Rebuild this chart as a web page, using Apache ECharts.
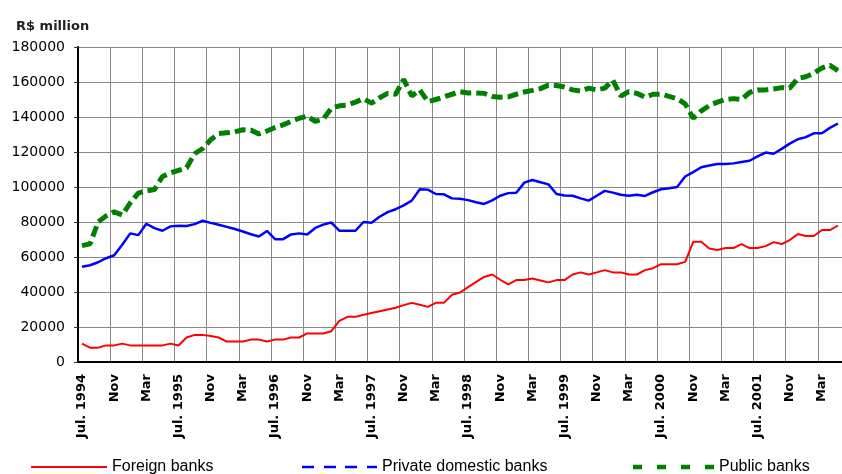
<!DOCTYPE html>
<html>
<head>
<meta charset="utf-8">
<script src="https://cdn.jsdelivr.net/npm/echarts/dist/echarts.min.js"></script>
<style>
  html, body { margin: 0; padding: 0; background: #fff; }
  #chart { width: 842px; height: 474px; }
</style>
</head>
<body>
<div id="chart"></div>
<script>
// monthly, Jul 1994 .. May 2002 (95 months), R$ million
const tickLabels = ['Jul. 1994', 'Nov', 'Mar', 'Jul. 1995', 'Nov', 'Mar', 'Jul. 1996', 'Nov', 'Mar',
  'Jul. 1997', 'Nov', 'Mar', 'Jul. 1998', 'Nov', 'Mar', 'Jul. 1999', 'Nov', 'Mar',
  'Jul. 2000', 'Nov', 'Mar', 'Jul. 2001', 'Nov', 'Mar']

const foreignBanks = [
  10500, 8200, 8200, 9500, 9500, 10500, 9500, 9500, 9500, 9500, 9500, 10500,
  9400, 14000, 15500, 15500, 14800, 14000, 11700, 11700, 11700, 12800, 12800, 11700,
  12800, 12800, 14000, 14000, 16300, 16300, 16300, 17600, 23500, 25800, 25800, 27000,
  28000, 29000, 30000, 31000, 32500, 33800, 32700, 31500, 33800, 33800, 38400, 39700,
  42800, 45800, 48600, 50000, 47000, 44300, 46800, 46800, 47700, 46600, 45500, 46800,
  46800, 50000, 51200, 50000, 51200, 52500, 51200, 51200, 50000, 50000, 52500, 53600,
  55900, 55900, 55900, 57200, 68700, 68700, 64900, 64000, 65100, 65100, 67400, 65100,
  65100, 66200, 68500, 67400, 69700, 73100, 72000, 72000, 75400, 75400, 78000
]

const privateDomesticBanks = [
  54400, 55300, 57000, 59300, 61000, 67000, 73500, 72500, 79000, 76500, 75000, 77500,
  77800, 77700, 78800, 80700, 79500, 78400, 77200, 76000, 74600, 73000, 71700, 74900,
  70200, 70200, 72900, 73500, 72900, 76600, 78500, 79700, 75000, 75000, 75000, 80000,
  79600, 83000, 85600, 87300, 89500, 92200, 98700, 98500, 96000, 95800, 93500, 93300,
  92500, 91300, 90300, 92400, 95000, 96500, 96700, 102500, 104000, 102700, 101500, 96000,
  95200, 95000, 93500, 92200, 95000, 97800, 96800, 95600, 95000, 95600, 94900, 97000,
  98700, 99300, 100000, 106000, 108500, 111300, 112300, 113200, 113200, 113500, 114300, 115000,
  117500, 119700, 119000, 121800, 124800, 127300, 128500, 130700, 130700, 133800, 136300
]

const publicBanks = [
  66500, 67500, 80000, 83500, 85800, 84000, 91000, 96500, 97800, 98500, 106000, 108000,
  109500, 111000, 119000, 122000, 127000, 130500, 131000, 131500, 132700, 132500, 130300, 132000,
  134000, 135500, 137500, 139300, 140500, 137500, 138800, 145000, 146400, 146800, 148500, 150500,
  147900, 151000, 153500, 153000, 161500, 152000, 155500, 148800, 150000, 151500, 153000, 154500,
  153700, 153700, 153500, 151700, 151300, 151500, 153000, 154300, 155200, 156200, 158200, 158000,
  157100, 155500, 154800, 156500, 155500, 156500, 161000, 152000, 154500, 153500, 151300, 153000,
  153000, 151800, 150500, 147500, 139300, 143500, 146500, 148500, 150000, 150500, 150000, 154000,
  155500, 155500, 156000, 156800, 156500, 162000, 163000, 165000, 168000, 169500, 166500
]

const monthNames = ['Jan', 'Feb', 'Mar', 'Apr', 'May', 'Jun', 'Jul', 'Aug', 'Sep', 'Oct', 'Nov', 'Dec']
const months = foreignBanks.map((v, i) => {
  const m = 6 + i
  return monthNames[m % 12] + ' ' + (1994 + Math.floor(m / 12))
})

const chart = echarts.init(document.getElementById('chart'))
const axisFont = 'DejaVu Sans'
const legendText = { fontFamily: 'Liberation Sans', fontSize: 16, color: '#000', lineHeight: 16 }
const noBorder = { borderWidth: 0 }

chart.setOption({
  animation: false,
  title: {
    text: 'R$ million',
    left: 16,
    top: 20,
    padding: 0,
    textStyle: { fontFamily: axisFont, fontSize: 13, fontWeight: 'bold', color: '#222' }
  },
  grid: { left: 78, top: 47, width: 768, bottom: 112 },
  legend: [
    {
      left: 31, top: 459, padding: 0, itemWidth: 76, itemHeight: 14, textStyle: legendText,
      data: [{ name: 'Foreign banks', icon: 'path://M0,0h76v2h-76z', itemStyle: noBorder }]
    },
    {
      left: 302, top: 459, padding: 0, itemWidth: 75, itemHeight: 14, textStyle: legendText,
      data: [{
        name: 'Private domestic banks',
        icon: 'path://M0,0h12v2.5h-12z M22,0h12v2.5h-12z M43,0h12v2.5h-12z M65,0h10v2.5h-10z',
        itemStyle: noBorder
      }]
    },
    {
      left: 633, top: 459, padding: 0, itemWidth: 81, itemHeight: 14, textStyle: legendText,
      data: [{
        name: 'Public banks',
        icon: 'path://M0,0h9v4.5h-9z M24,0h9v4.5h-9z M48,0h9v4.5h-9z M72,0h9v4.5h-9z',
        itemStyle: noBorder
      }]
    }
  ],
  xAxis: {
    type: 'category',
    data: months,
    boundaryGap: true,
    axisLine: { lineStyle: { color: '#000', width: 2 } },
    axisTick: { interval: 3, length: 5, lineStyle: { color: '#000' } },
    splitLine: { show: true, interval: 3, lineStyle: { color: '#888', width: 1 } },
    axisLabel: {
      interval: 3,
      rotate: 90,
      margin: 12,
      fontFamily: axisFont,
      fontSize: 13,
      fontWeight: 'bold',
      color: '#000',
      formatter: (v, i) => tickLabels[i / 4] || ''
    }
  },
  yAxis: {
    type: 'value',
    min: 0,
    max: 180000,
    interval: 20000,
    axisLine: { show: true, lineStyle: { color: '#000', width: 2 } },
    axisTick: { show: true, length: 4, lineStyle: { color: '#333' } },
    splitLine: { lineStyle: { color: '#888', width: 1 } },
    axisLabel: {
      margin: 13, fontFamily: axisFont, fontSize: 14, color: '#000',
      formatter: v => String(v)
    }
  },
  series: [
    {
      name: 'Foreign banks',
      type: 'line',
      data: foreignBanks,
      symbol: 'none',
      lineStyle: { color: '#ff0000', width: 2 },
      itemStyle: { color: '#ff0000' }
    },
    {
      name: 'Private domestic banks',
      type: 'line',
      data: privateDomesticBanks,
      symbol: 'none',
      lineStyle: { color: '#0000ff', width: 2.5 },
      itemStyle: { color: '#0000ff' }
    },
    {
      name: 'Public banks',
      type: 'line',
      data: publicBanks,
      symbol: 'none',
      lineStyle: { color: '#008000', width: 5, type: [11, 5] },
      itemStyle: { color: '#008000' }
    }
  ]
})
</script>
</body>
</html>
